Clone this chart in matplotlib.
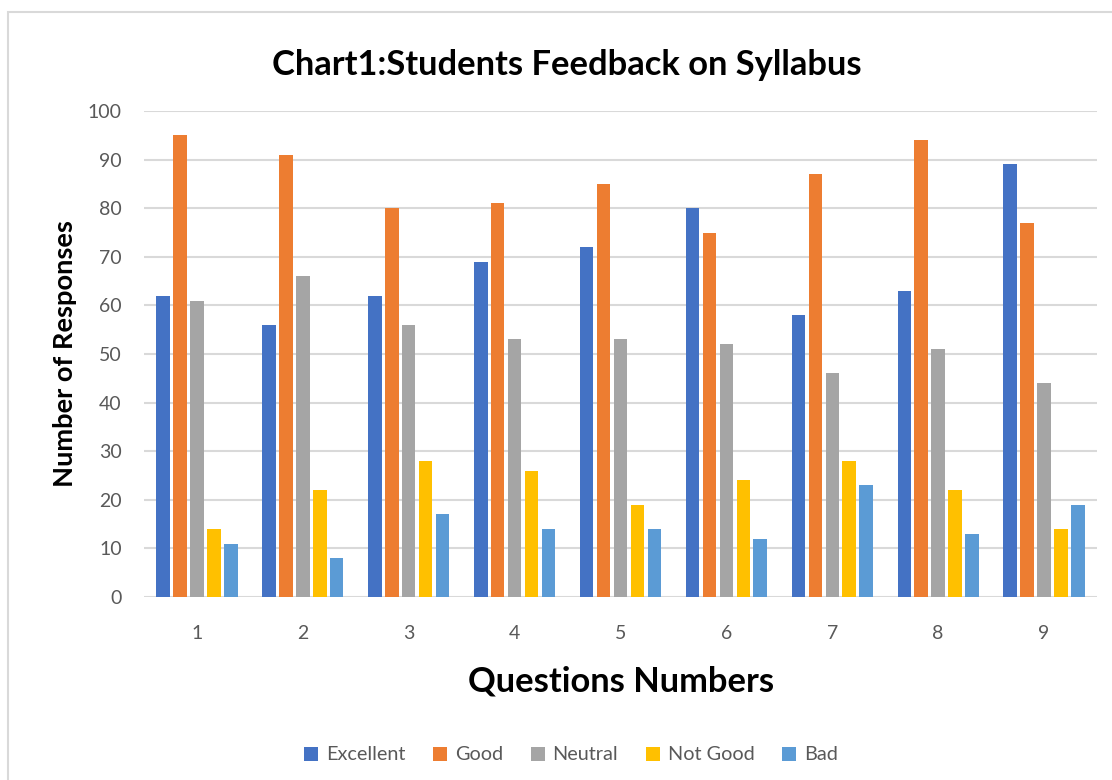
import numpy as np
import matplotlib.pyplot as plt
from matplotlib.patches import Rectangle

plt.rcParams['font.family'] = ['Lato', 'DejaVu Sans']

# valores
perguntas = ['1', '2', '3', '4', '5', '6', '7', '8', '9']
excellent = [62, 56, 62, 69, 72, 80, 58, 63, 89]
good = [95, 91, 80, 81, 85, 75, 87, 94, 77]
neutral = [61, 66, 56, 53, 53, 52, 46, 51, 44]
not_good = [14, 22, 28, 26, 19, 24, 28, 22, 14]
bad = [11, 8, 17, 14, 14, 12, 23, 13, 19]

series = [('Excellent', excellent, '#4472C4'),
          ('Good', good, '#ED7D31'),
          ('Neutral', neutral, '#A5A5A5'),
          ('Not Good', not_good, '#FFC000'),
          ('Bad', bad, '#5B9BD5')]

fig = plt.figure(figsize=(11.12, 7.8), dpi=100)
ax = fig.add_axes([144 / 1112, 183 / 780, 953 / 1112, 486 / 780])

x = np.arange(len(perguntas))
passo = 0.16
largura = 0.128
for k, (nome, vals, cor) in enumerate(series):
    ax.bar(x + (k - 2) * passo, vals, largura, color=cor, label=nome, zorder=3)

ax.set_xlim(-0.5, len(perguntas) - 0.5)
ax.set_ylim(0, 100)
ax.set_yticks(range(0, 101, 10))
ax.set_xticks(x)
ax.set_xticklabels(perguntas)
ax.grid(axis='y', color='#D9D9D9', linewidth=1.5, zorder=0)
for s in ax.spines.values():
    s.set_visible(False)
ax.tick_params(length=0, labelsize=14, labelcolor='#595959')
ax.tick_params(axis='y', pad=16)
ax.tick_params(axis='x', pad=20)

fig.text(567 / 1112, 1 - 65 / 780, 'Chart1:Students Feedback on Syllabus',
         ha='center', va='center', fontsize=24.8, fontweight='bold')
fig.text(65 / 1112, 1 - 354 / 780, 'Number of Responses', rotation=90,
         ha='center', va='center', fontsize=19.6, fontweight='bold')
fig.text(621 / 1112, 1 - 682 / 780, 'Questions Numbers',
         ha='center', va='center', fontsize=24.8, fontweight='bold')

leg = fig.legend(loc='center', bbox_to_anchor=(571 / 1112, 1 - 755 / 780), ncol=5,
                 frameon=False, fontsize=14.3, handlelength=0.7, handleheight=0.7,
                 handletextpad=0.4, columnspacing=1.4)
for t in leg.get_texts():
    t.set_color('#595959')

# borda do grafico
fig.patches.append(Rectangle((8 / 1112, -0.1), 1.1, 1.1 - 12 / 780, transform=fig.transFigure,
                             fill=False, edgecolor='#D9D9D9', linewidth=1.5))

fig.savefig('out.png', dpi=100)
